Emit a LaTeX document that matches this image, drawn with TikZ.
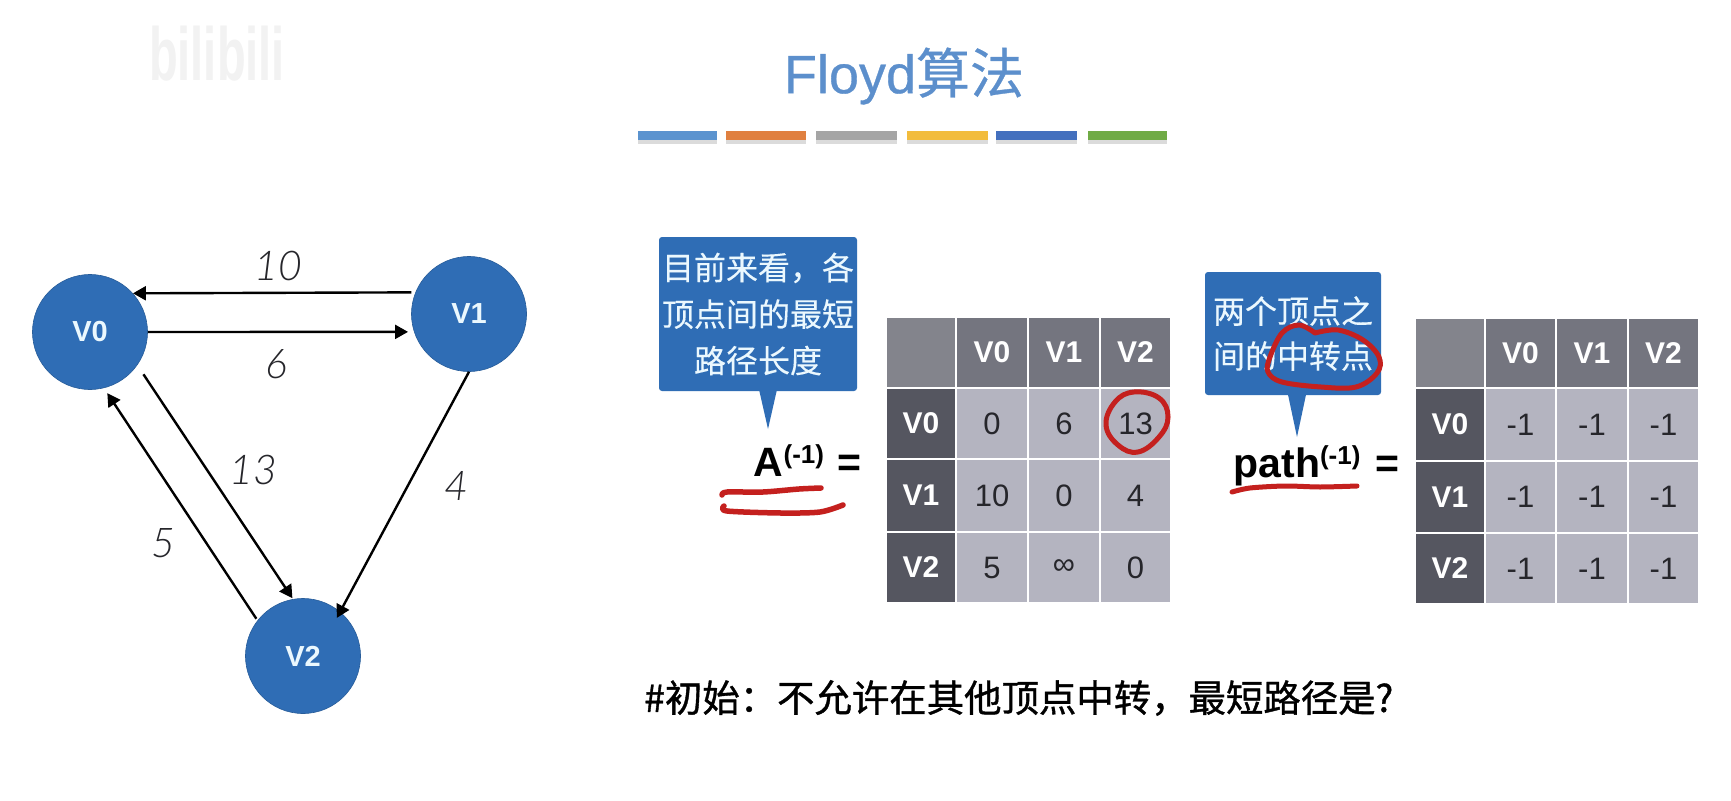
\documentclass[tikz,border=0pt]{standalone}
\usepackage{fontspec}
\setmainfont{Liberation Sans}
\newfontfamily\cjk[FakeBold=0.25]{Noto Sans CJK SC}
\newfontfamily\cjkb[FakeBold=1.0]{Noto Sans CJK SC}
\newfontfamily\cjkt[FakeBold=0.6]{Noto Sans CJK SC}
\newfontfamily\titlefont[FakeBold=0.6]{Liberation Sans}
\newfontfamily\lab{Lato Light Italic}
\usetikzlibrary{arrows.meta,calc}
\definecolor{nodeblue}{HTML}{2F6DB5}
\definecolor{titleblue}{HTML}{5C8FCC}
\definecolor{hdr}{HTML}{74757F}
\definecolor{corner}{HTML}{83848C}
\definecolor{rowhdr}{HTML}{555660}
\definecolor{body}{HTML}{B4B4C0}
\definecolor{ink}{HTML}{26262B}
\definecolor{inkred}{HTML}{C4201E}
\definecolor{calloutface}{HTML}{2F6DB5}
\newcommand{\fs}[2]{\fontsize{#1}{#2}\selectfont}
\newcommand{\tcell}[8]{% name x1 x2 y1 y2 style text
  \pgfmathsetmacro{\cw}{#3-#2-2}\pgfmathsetmacro{\ch}{#5-#4-2}
  \pgfmathsetmacro{\cx}{(#2+#3)/2}\pgfmathsetmacro{\cy}{(#4+#5)/2}
  \node[#6,minimum width=\cw pt,minimum height=\ch pt] (#1) at (\cx,\cy) {\raisebox{-2pt}{#7}};}
\tikzset{
  vertex/.style={circle,fill=nodeblue,draw=nodeblue!85!black,line width=0.6pt,minimum size=115pt,inner sep=0pt,text=white!92!cyan,font=\bfseries\fs{29}{32}},
  edgeline/.style={draw=black,line width=2.4pt,-{Triangle[length=13pt,width=14pt]}},
  weight/.style={font=\lab\fs{41}{44},text=ink,inner sep=0pt},
  cellbase/.style={inner sep=0pt,rectangle},
  corner cell/.style={cellbase,fill=corner},
  head cell/.style={cellbase,fill=hdr,text=white,font=\bfseries\fs{30}{32}},
  row cell/.style={cellbase,fill=rowhdr,text=white,font=\bfseries\fs{30}{32}},
  val cell/.style={cellbase,fill=body,text=ink,font=\fs{31}{33}},
  callout/.style={rectangle,rounded corners=3pt,fill=calloutface,text=white!92!cyan,align=center,inner sep=0pt,font=\cjk\fs{32}{46.5}},
  bar/.style={rectangle,inner sep=0pt,minimum height=9pt},
  formula/.style={anchor=base,inner sep=0pt,text=black,font=\bfseries\fs{41}{44}},
  redpen/.style={draw=inkred,line width=5pt,line cap=round,line join=round},
}
\begin{document}
\begin{tikzpicture}[x=1pt,y=-1pt]
\useasboundingbox (0,0) rectangle (1731,800);
\fill[white] (0,0) rectangle (1731,800);
% watermark
\node[inner sep=0pt,text=black!5] (wm) at (217,54) {\bfseries\fs{47}{50}\scalebox{1}[1.6]{bilibili}};
% title
\node[inner sep=0pt,text=titleblue] (title) at (904,76) {\titlefont\fs{54}{58}Floyd{\cjkt 算法}};
% colour bars
\foreach \nm/\a/\b/\c in {b1/638/717/5B93CF,b2/726/806/E08040,b3/816/897/A5A5A5,b4/907/988/F2BC3D,b5/996/1077/4470BE,b6/1088/1167/70AB46}{
  \definecolor{tmpc}{HTML}{\c}
  \fill[black!14] (\a,136) rectangle (\b,144);
  \pgfmathsetmacro{\bw}{\b-\a}\pgfmathsetmacro{\bx}{(\a+\b)/2}
  \node[bar,fill=tmpc,minimum width=\bw pt] (\nm) at (\bx,135.5) {};
}
% graph
\node[vertex] (V0) at (90,332) {V0};
\node[vertex] (V1) at (469,314) {V1};
\node[vertex] (V2) at (303,656) {V2};
\draw[edgeline,shorten <=4pt] (V1.158.8) -- (V0.42.3);
\draw[edgeline,shorten >=6pt] (V0.0) -- (V1.198);
\draw[edgeline,shorten <=11pt,shorten >=1pt] (V0.-35) -- (V2.100);
\draw[edgeline,shorten <=2pt,shorten >=6pt] (V2.142) -- (V0.-76);
\draw[edgeline,shorten >=-7pt] (V1.-90) -- (V2.50);
\node[weight] (w10) at (278,266) {10};
\node[weight] (w6) at (276,364) {6};
\node[weight] (w13) at (253,470) {13};
\node[weight] (w4) at (456,486) {4};
\node[weight] (w5) at (163,543) {5};
% left callout
\coordinate (tipA) at (768,429);
\fill[calloutface] (758,385) -- (tipA) -- (778,385) -- cycle;
\node[callout,minimum width=198pt,minimum height=154pt] (c1) at (758,314) {目前来看，各\\顶点间的最短\\路径长度};
% left formula
\node[formula] (fA) at (789,476.5) {A\raisebox{13pt}{\fs{26}{28}(-1)}};
\node[formula] (eqA) at (849,476) {=};
% left table
\tcell{a00}{886}{956}{317}{388}{corner cell}{}{}
\tcell{a01}{956}{1028}{317}{388}{head cell}{V0}{}
\tcell{a02}{1028}{1100}{317}{388}{head cell}{V1}{}
\tcell{a03}{1100}{1171}{317}{388}{head cell}{V2}{}
\tcell{a10}{886}{956}{388}{459}{row cell}{V0}{}
\tcell{a11}{956}{1028}{388}{459}{val cell}{0}{}
\tcell{a12}{1028}{1100}{388}{459}{val cell}{6}{}
\tcell{a13}{1100}{1171}{388}{459}{val cell}{13}{}
\tcell{a20}{886}{956}{459}{532}{row cell}{V1}{}
\tcell{a21}{956}{1028}{459}{532}{val cell}{10}{}
\tcell{a22}{1028}{1100}{459}{532}{val cell}{0}{}
\tcell{a23}{1100}{1171}{459}{532}{val cell}{4}{}
\tcell{a30}{886}{956}{532}{603}{row cell}{V2}{}
\tcell{a31}{956}{1028}{532}{603}{val cell}{5}{}
\tcell{a32}{1028}{1100}{532}{603}{val cell}{∞}{}
\tcell{a33}{1100}{1171}{532}{603}{val cell}{0}{}
% right callout
\coordinate (tipP) at (1297,437);
\fill[calloutface] (1287,390) -- (tipP) -- (1307,390) -- cycle;
\node[callout,font=\cjk\fs{32}{45},minimum width=176pt,minimum height=123pt] (c2) at (1293,333.5) {两个顶点之\\间的中转点};
% right formula
\node[formula] (fP) at (1297,477) {path\raisebox{13pt}{\fs{26}{28}(-1)}};
\node[formula] (eqP) at (1387,477) {=};
% right table
\tcell{p00}{1415}{1485}{318}{388}{corner cell}{}{}
\tcell{p01}{1485}{1556}{318}{388}{head cell}{V0}{}
\tcell{p02}{1556}{1628}{318}{388}{head cell}{V1}{}
\tcell{p03}{1628}{1699}{318}{388}{head cell}{V2}{}
\tcell{p10}{1415}{1485}{388}{461}{row cell}{V0}{}
\tcell{p11}{1485}{1556}{388}{461}{val cell}{-1}{}
\tcell{p12}{1556}{1628}{388}{461}{val cell}{-1}{}
\tcell{p13}{1628}{1699}{388}{461}{val cell}{-1}{}
\tcell{p20}{1415}{1485}{461}{533}{row cell}{V1}{}
\tcell{p21}{1485}{1556}{461}{533}{val cell}{-1}{}
\tcell{p22}{1556}{1628}{461}{533}{val cell}{-1}{}
\tcell{p23}{1628}{1699}{461}{533}{val cell}{-1}{}
\tcell{p30}{1415}{1485}{533}{604}{row cell}{V2}{}
\tcell{p31}{1485}{1556}{533}{604}{val cell}{-1}{}
\tcell{p32}{1556}{1628}{533}{604}{val cell}{-1}{}
\tcell{p33}{1628}{1699}{533}{604}{val cell}{-1}{}
% bottom text
\node[anchor=west,inner sep=0pt,text=black] (note) at (644,698) {\cjkb\fs{37.4}{40}\#初始：不允许在其他顶点中转，最短路径是?};
% red annotations
\draw[redpen] plot[smooth cycle,tension=0.7] coordinates {(1134,392) (1159,398) (1168,417) (1159,437) (1138,452) (1118,445) (1106,425) (1115,402)};
\draw[redpen] plot[smooth,tension=0.6] coordinates {(1315,333) (1299,325) (1282,333) (1270,357) (1268,372) (1282,382) (1321,387) (1356,387) (1377,373) (1379,357) (1363,340) (1338,330) (1315,333)};
\draw[redpen,line width=5.5pt] plot[smooth,tension=0.5] coordinates {(722,495) (727,492) (763,492) (799,489) (821,488)};
\draw[redpen,line width=5.5pt] plot[smooth,tension=0.5] coordinates {(724,506) (727,511) (781,513) (820,512) (843,505)};
\draw[redpen] plot[smooth,tension=0.5] coordinates {(1232,492) (1250,488) (1285,486) (1320,487) (1357,486)};
\end{tikzpicture}
\end{document}
